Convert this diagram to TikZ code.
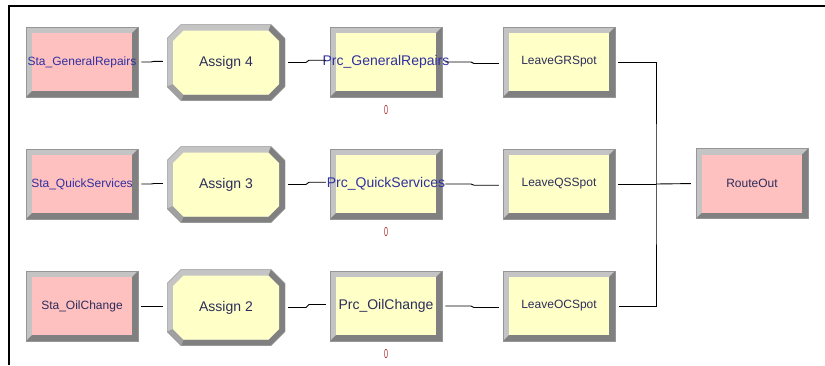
\documentclass[tikz,border=0pt]{standalone}
\usepackage{fontspec}
\setmainfont{Liberation Sans}
\usepackage{tikz}
\usetikzlibrary{positioning,calc}
\definecolor{stapink}{RGB}{255,192,192}
\definecolor{modyel}{RGB}{255,255,200}
\definecolor{bvlite}{RGB}{196,196,196}
\definecolor{bvmid}{RGB}{160,160,160}
\definecolor{bvdark}{RGB}{128,128,128}
\definecolor{bvedge}{RGB}{150,150,150}
\definecolor{lblblue}{RGB}{48,48,160}
\definecolor{lbldark}{RGB}{45,45,90}
\definecolor{cntred}{RGB}{170,50,50}
\newcommand{\ppb}{path picture bounding box}
% label that may run past the block edges without widening it
\newcommand{\ovr}[1]{\makebox[0pt]{#1}}
\tikzset{
  modrect/.style={rectangle, minimum width=112pt, minimum height=70pt, inner sep=0pt,
    fill=bvlite, draw=bvedge, line width=0.5pt,
    path picture={
      \fill[bvdark] (\ppb.south west) -- (\ppb.south east) -- (\ppb.north east)
        -- ([shift={(-6pt,-6pt)}]\ppb.north east) -- ([shift={(-6pt,6pt)}]\ppb.south east)
        -- ([shift={(6pt,6pt)}]\ppb.south west) -- cycle;
      \fill[#1] ([shift={(6pt,6pt)}]\ppb.south west) rectangle ([shift={(-6pt,-6pt)}]\ppb.north east);}},
  stabox/.style={modrect=stapink},
  prcbox/.style={modrect=modyel},
  asgbox/.style={rectangle, minimum width=118pt, minimum height=76pt, inner sep=0pt, fill=white,
    path picture={
      \fill[bvlite] ([xshift=14pt]\ppb.south west) -- ([xshift=-14pt]\ppb.south east)
        -- ([yshift=14pt]\ppb.south east) -- ([yshift=-14pt]\ppb.north east)
        -- ([xshift=-14pt]\ppb.north east) -- ([xshift=14pt]\ppb.north west)
        -- ([yshift=-14pt]\ppb.north west) -- ([yshift=14pt]\ppb.south west) -- cycle;
      % lower and right bevel
      \fill[bvdark] ([xshift=14pt]\ppb.south west) -- ([xshift=-14pt]\ppb.south east)
        -- ([yshift=14pt]\ppb.south east) -- ([yshift=-14pt]\ppb.north east)
        -- ([xshift=-14pt]\ppb.north east) -- ([shift={(-16.5pt,-6pt)}]\ppb.north east)
        -- ([shift={(-6pt,-16.5pt)}]\ppb.north east) -- ([shift={(-6pt,16.5pt)}]\ppb.south east)
        -- ([shift={(-16.5pt,6pt)}]\ppb.south east) -- ([shift={(16.5pt,6pt)}]\ppb.south west) -- cycle;
      \fill[bvmid] ([yshift=14pt]\ppb.south west) -- ([xshift=14pt]\ppb.south west)
        -- ([shift={(16.5pt,6pt)}]\ppb.south west) -- ([shift={(6pt,16.5pt)}]\ppb.south west) -- cycle;
      \fill[modyel] ([shift={(16.5pt,6pt)}]\ppb.south west) -- ([shift={(-16.5pt,6pt)}]\ppb.south east)
        -- ([shift={(-6pt,16.5pt)}]\ppb.south east) -- ([shift={(-6pt,-16.5pt)}]\ppb.north east)
        -- ([shift={(-16.5pt,-6pt)}]\ppb.north east) -- ([shift={(16.5pt,-6pt)}]\ppb.north west)
        -- ([shift={(6pt,-16.5pt)}]\ppb.north west) -- ([shift={(6pt,16.5pt)}]\ppb.south west) -- cycle;
      \draw[bvedge, line width=0.5pt] ([xshift=14pt]\ppb.south west) -- ([xshift=-14pt]\ppb.south east)
        -- ([yshift=14pt]\ppb.south east) -- ([yshift=-14pt]\ppb.north east)
        -- ([xshift=-14pt]\ppb.north east) -- ([xshift=14pt]\ppb.north west)
        -- ([yshift=-14pt]\ppb.north west) -- ([yshift=14pt]\ppb.south west) -- cycle;}},
  smalltxt/.style={font=\fontsize{12}{14}\selectfont},
  bigtxt/.style={font=\fontsize{14}{16}\selectfont},
  zero/.style={font=\fontsize{13}{14}\selectfont, text=cntred, inner sep=2pt},
  wire/.style={black, line width=0.9pt, shorten <=3pt, shorten >=4pt},
  jog/.style={to path={let \p1=(\tikztostart), \p2=(\tikztotarget) in
    -- (\x1/2+\x2/2-1.5pt,\y1) -- (\x1/2+\x2/2+1.5pt,\y2) -- (\tikztotarget)}},
  frame/.style={black, line width=1.8pt},
}
\begin{document}
\begin{tikzpicture}[x=1pt,y=-1pt]
\useasboundingbox (0,0) rectangle (825,365);
\draw[frame] (9,365) -- (9,6) -- (825,6);

% stations
\node[stabox, smalltxt, text=lblblue] (sgr) at (82,62) {\ovr{Sta\_GeneralRepairs}};
\node[stabox, smalltxt, text=lblblue] (sqs) at (82,184) {\ovr{Sta\_QuickServices}};
\node[stabox, smalltxt, text=lbldark] (soc) at (82,306) {Sta\_OilChange};
% assigns
\node[asgbox, bigtxt, text=lbldark] (agr) at (226,62.5) {Assign 4};
\node[asgbox, bigtxt, text=lbldark] (aqs) at (226,184.5) {Assign 3};
\node[asgbox, bigtxt, text=lbldark] (aoc) at (226,307.5) {Assign 2};
% processes
\node[prcbox, bigtxt, text=lblblue] (pgr) at (386,62) {\ovr{Prc\_GeneralRepairs}};
\node[prcbox, bigtxt, text=lblblue] (pqs) at (386,184) {\ovr{Prc\_QuickServices}};
\node[prcbox, bigtxt, text=lbldark] (poc) at (386,306) {Prc\_OilChange};
\node[zero, below=6pt of pgr] (zgr) {\scalebox{0.55}[1]{0}};
\node[zero, below=6pt of pqs] (zqs) {\scalebox{0.55}[1]{0}};
\node[zero, below=6pt of poc] (zoc) {\scalebox{0.55}[1]{0}};
% leave spots
\node[prcbox, smalltxt, text=lbldark] (lgr) at (559,62) {LeaveGRSpot};
\node[prcbox, smalltxt, text=lbldark] (lqs) at (559,184) {LeaveQSSpot};
\node[prcbox, smalltxt, text=lbldark] (loc) at (559,306) {LeaveOCSpot};
\node[stabox, smalltxt, text=lbldark] (rout) at (752,183.5) {RouteOut};

% connectors
\draw[wire] (sgr.east) to[jog] ([yshift=1.2pt]agr.west);
\draw[wire] (agr.east) to[jog] ([yshift=1.8pt]pgr.west);
\draw[wire] (pgr.east) to[jog] ([yshift=-1.5pt]lgr.west);
\draw[wire] (sqs.east) to[jog] ([yshift=1pt]aqs.west);
\draw[wire] (aqs.east) to[jog] ([yshift=1.8pt]pqs.west);
\draw[wire] (pqs.east) to[jog] ([yshift=-1.2pt]lqs.west);
\draw[wire] (soc.east) -- (aoc.west |- soc.east);
\draw[wire] (aoc.east) to[jog] ([yshift=1.5pt]poc.west);
\draw[wire] (poc.east) to[jog] ([yshift=-1.5pt]loc.west);

\coordinate (jn) at (656,184);
\draw[wire] (lgr.east) -| (jn) |- (loc.east);
\draw[wire, shorten >=0pt] (lqs.east) -- (jn);
\draw[wire, shorten <=0pt, shorten >=5pt] (jn) -- (rout.west);
\end{tikzpicture}
\end{document}
